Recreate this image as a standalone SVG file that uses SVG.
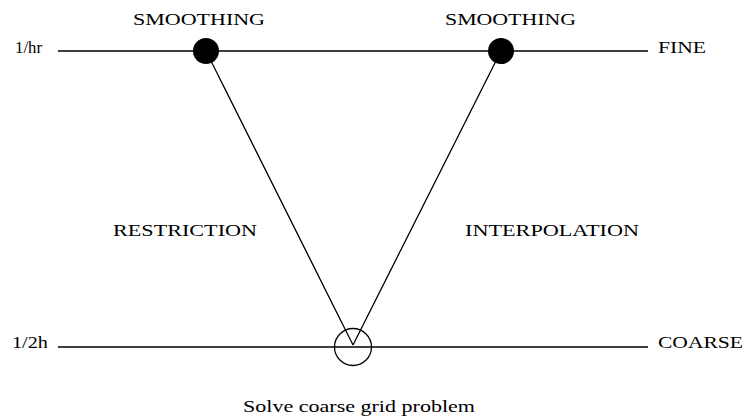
<svg xmlns="http://www.w3.org/2000/svg" width="745" height="418" viewBox="0 0 745 418">
<style>
.t{font-family:"Liberation Serif","Times New Roman",serif;font-size:17px;fill:#000}
.l{stroke:#000;stroke-width:1.3;fill:none}
</style>
<rect width="745" height="418" fill="#fff"/>
<g id="connectors">
<line class="l" x1="58" y1="51" x2="648" y2="51"/>
<line class="l" x1="58" y1="347" x2="648" y2="347"/>
<line class="l" x1="206" y1="51" x2="353" y2="345"/>
<line class="l" x1="501" y1="51" x2="353" y2="345"/>
</g>
<g id="smooth1"><circle cx="206" cy="51" r="13" fill="#000"/><text class="t" x="133" y="25" textLength="132" lengthAdjust="spacingAndGlyphs">SMOOTHING</text></g>
<g id="smooth2"><circle cx="501" cy="51" r="13" fill="#000"/><text class="t" x="445" y="25" textLength="131" lengthAdjust="spacingAndGlyphs">SMOOTHING</text></g>
<g id="coarse-solve"><circle class="l" cx="353" cy="347" r="18.5"/><text class="t" x="243" y="412" textLength="232" lengthAdjust="spacingAndGlyphs">Solve coarse grid problem</text></g>
<g id="labels">
<text class="t" x="15" y="53" textLength="27" lengthAdjust="spacingAndGlyphs">1/hr</text>
<text class="t" x="658" y="53" textLength="48" lengthAdjust="spacingAndGlyphs">FINE</text>
<text class="t" x="12" y="348" textLength="36" lengthAdjust="spacingAndGlyphs">1/2h</text>
<text class="t" x="658" y="348" textLength="85" lengthAdjust="spacingAndGlyphs">COARSE</text>
<text class="t" x="113" y="236" textLength="144" lengthAdjust="spacingAndGlyphs">RESTRICTION</text>
<text class="t" x="465" y="236" textLength="174" lengthAdjust="spacingAndGlyphs">INTERPOLATION</text>
</g>
</svg>
